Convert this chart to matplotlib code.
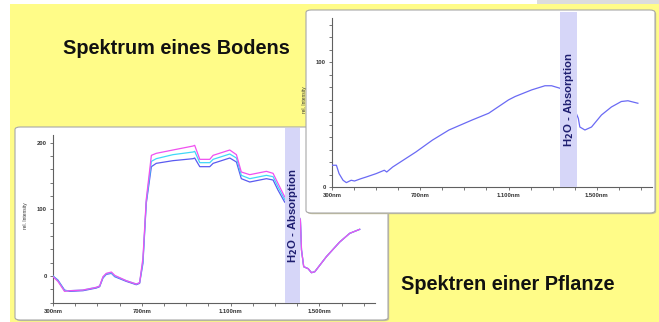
import numpy as np
import matplotlib
matplotlib.use("Agg")
import matplotlib.pyplot as plt
from matplotlib.patches import Rectangle, FancyBboxPatch
from matplotlib.ticker import MultipleLocator, FixedLocator

W, H = 659, 322

# plant spectra (three leaves), nm -> rel. intensity
plant_nm = [300, 322, 352, 375, 435, 495, 510, 525, 540, 563, 578, 630, 675, 690,
            705, 720, 743, 765, 840, 931, 938, 961, 1006, 1021, 1096, 1126, 1148,
            1186, 1261, 1291, 1313, 1343, 1380, 1405, 1414, 1419, 1429, 1449, 1464,
            1479, 1531, 1591, 1636, 1681]
plant_blue = [0, -6, -21, -23, -22, -18, -16, -3, 2.5, 4, -1, -8, -13, -11,
              19, 109, 164, 169, 173, 176, 177, 164, 164, 169, 177, 171, 146,
              141, 146, 144, 129, 111, 100, 90, 84, 39, 14, 11, 5,
              6.5, 29, 51, 64, 70]
plant_cyan = [0, -7, -22, -22, -21, -17, -15, -2, 3.5, 5, 0, -7, -12, -10,
              23, 112, 172, 176, 182, 186, 187, 170, 170, 175, 183, 177, 151,
              146, 151, 149, 134, 115, 102, 91, 84, 39, 14, 11, 5,
              6.5, 29, 51, 64, 70]
plant_magenta = [-1, -8, -23, -22, -21, -17, -15, -1, 4, 6, 1, -7, -12, -10,
                 27, 115, 181, 184, 189, 195, 196, 175, 175, 181, 189, 182, 156,
                 152, 157, 154, 139, 119, 104, 92, 84, 39, 14, 11, 5,
                 6.5, 29, 51, 64, 70]

# soil spectrum
soil_nm = [300, 320, 332, 350, 365, 387, 402, 432, 455, 500, 537, 548, 575, 680,
           755, 830, 935, 1010, 1100, 1130, 1205, 1265, 1295, 1333, 1380, 1416,
           1423, 1446, 1476, 1521, 1566, 1611, 1641, 1686]
soil_val = [17.4, 17.4, 10.7, 5.4, 3.5, 5.4, 4.8, 6.7, 8, 10.7, 13.4, 12, 16, 28,
            37.5, 45.6, 53.6, 59, 69.7, 72.4, 77.7, 81, 81, 79, 70, 55,
            48, 45.6, 48, 57.6, 64, 68.4, 69, 67]

x_major = [300, 700, 1100, 1500]
x_labels = ["300nm", "700nm", "1.100nm", "1.500nm"]
water_band = (1343, 1414)
water_band_soil = (1333, 1411)

YELLOW = "#FFFC88"
BAND = "#D6D6F8"
NAVY = "#1E1E70"


def fx(px):
    return px / W


def fy(py):
    return 1 - py / H


def add_box(fig, x0, y0, x1, y1, z):
    # soft shadow, then white rounded panel
    sh = FancyBboxPatch((fx(x0 + 1.2), fy(y1 + 1.2)), fx(x1 - x0), (y1 - y0) / H,
                        boxstyle="round,pad=0,rounding_size=0.008",
                        transform=fig.transFigure, fc="#c8c49a", ec="none", zorder=z)
    bx = FancyBboxPatch((fx(x0), fy(y1)), fx(x1 - x0), (y1 - y0) / H,
                        boxstyle="round,pad=0,rounding_size=0.008",
                        transform=fig.transFigure, fc="white", ec="#a8a8a8",
                        lw=0.8, zorder=z + 0.1)
    fig.add_artist(sh)
    fig.add_artist(bx)


def style_axes(ax, ylim, ytop, ymaj, ystep):
    ax.patch.set_visible(False)
    ax.set_xlim(300, 1750)
    ax.set_ylim(*ylim)
    for s in ("top", "right"):
        ax.spines[s].set_visible(False)
    for s in ("left", "bottom"):
        ax.spines[s].set_color("#606060")
        ax.spines[s].set_linewidth(0.8)
    ax.spines["left"].set_bounds(ylim[0], ytop)
    ax.xaxis.set_major_locator(FixedLocator(x_major))
    ax.set_xticklabels(x_labels)
    ax.xaxis.set_minor_locator(MultipleLocator(100))
    ax.yaxis.set_major_locator(FixedLocator(ymaj))
    ax.yaxis.set_minor_locator(FixedLocator(np.arange(ylim[0], ytop + 1, ystep)))
    ax.tick_params(which="both", length=2.5, width=0.6, color="#606060",
                   labelsize=4.2, labelcolor="#333333", pad=2)
    for t in ax.get_xticklabels() + ax.get_yticklabels():
        t.set_fontweight("bold")
    ax.set_ylabel("rel. Intensity", fontsize=3.5, color="#333333", labelpad=6)


def add_band(ax, band, z):
    ax.axvspan(band[0], band[1], ymin=0, ymax=1, color=BAND, lw=0, zorder=z)
    ax.text((band[0] + band[1]) / 2, 0.5, r"H$_{\mathbf{2}}$O - Absorption",
            transform=ax.get_xaxis_transform(), rotation=90, ha="center",
            va="center", fontsize=8.2, fontweight="bold", color=NAVY, zorder=z + 1)


plt.rcParams["font.family"] = ["Liberation Sans", "DejaVu Sans"]

fig = plt.figure(figsize=(W / 100, H / 100), dpi=100)
fig.patch.set_facecolor("white")

# background: yellow slide with a grey strip at the top right
fig.add_artist(Rectangle((fx(10), 0), 1 - fx(10), fy(4), transform=fig.transFigure,
                         fc=YELLOW, ec="none", zorder=0))
fig.add_artist(Rectangle((fx(537), fy(4)), 1 - fx(537), 4 / H, transform=fig.transFigure,
                         fc="#DCDCDC", ec="none", zorder=0))

# plant panel
add_box(fig, 15, 127, 388, 320, 1)
ax_p = fig.add_axes([fx(53), fy(302.7), fx(375 - 53), (302.7 - 128) / H], zorder=2)
style_axes(ax_p, (-40, 222), 211, [0, 100, 200], 20)
ax_p.plot(plant_nm, plant_blue, color="#5A5AF0", lw=0.9, zorder=3)
ax_p.plot(plant_nm, plant_cyan, color="#40D8F8", lw=0.9, zorder=3)
ax_p.plot(plant_nm, plant_magenta, color="#F050F0", lw=0.9, zorder=3)
add_band(ax_p, water_band, 4)

# soil panel (on top)
add_box(fig, 306, 10, 655, 213, 3)
ax_s = fig.add_axes([fx(332), fy(187), fx(652 - 332), (187 - 12) / H], zorder=4)
style_axes(ax_s, (0, 140), 135, [0, 100], 10)
ax_s.plot(soil_nm, soil_val, color="#6A6AF4", lw=0.9, zorder=3)
add_band(ax_s, water_band_soil, 4)

fig.text(fx(63), fy(49), "Spektrum eines Bodens", fontsize=14.3, fontweight="bold",
         ha="left", va="center", color="#111111", zorder=5)
fig.text(fx(401), fy(285), "Spektren einer Pflanze", fontsize=14.3, fontweight="bold",
         ha="left", va="center", color="#111111", zorder=5)

fig.savefig("out.png", dpi=100)
